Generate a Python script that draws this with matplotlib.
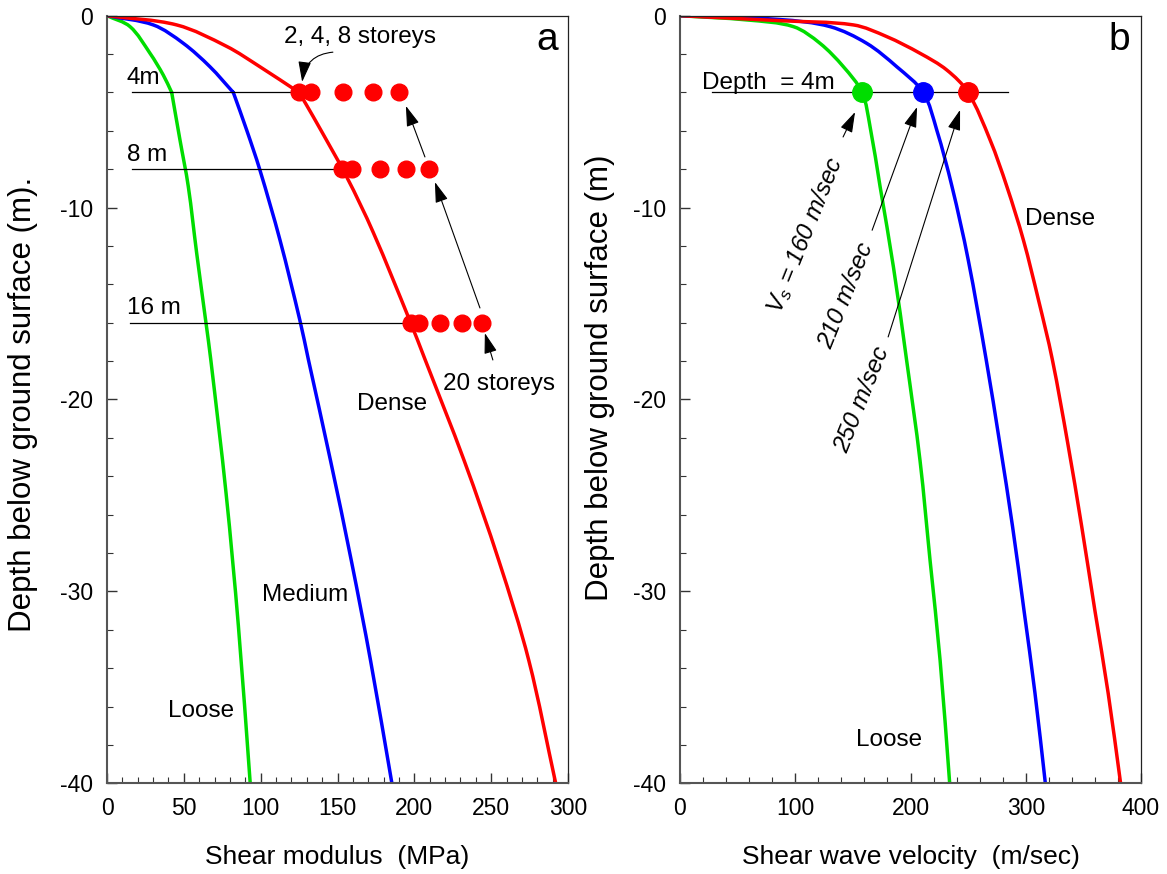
import numpy as np
import matplotlib.pyplot as plt
from matplotlib.ticker import MultipleLocator
from matplotlib.path import Path
from matplotlib.patches import PathPatch

plt.rcParams['font.family'] = ['Liberation Sans', 'DejaVu Sans']
plt.rcParams['mathtext.fontset'] = 'custom'
plt.rcParams['mathtext.it'] = 'Liberation Sans:italic'
plt.rcParams['mathtext.rm'] = 'Liberation Sans'
plt.rcParams['axes.unicode_minus'] = False

# ---- panel a : shear modulus (MPa) against depth (m) ----
loose_G_depth = [0, -0.57, -1.96, -3.09, -4.0, -6.48, -8.9, -12.4, -16.0, -17.9, -24.9, -31.8, -40]
loose_G = [0, 15, 28, 36.6, 42.1, 47.5, 52.9, 58.4, 64.4, 67.5, 77.5, 85.5, 93.2]

medium_G_depth = [0, -0.48, -1.44, -2.66, -4.0, -5.96, -8.04, -11.7, -15.9, -17.9, -23.2, -28.4, -33.6, -40]
medium_G = [0, 30.1, 49.7, 67, 82.2, 90.9, 99.5, 112.6, 125.6, 131, 145.5, 159, 171.5, 185.4]

dense_G_depth = [0, -0.48, -1.6, -2.66, -4.0, -5.26, -8.39, -11.3, -15.9, -17.9, -23.2, -28.4, -33.6, -40]
dense_G = [0, 45.3, 77.9, 99.5, 125, 134.2, 155.9, 173.3, 197.1, 206.9, 232.5, 255, 274.5, 292]

# foundation levels and the storey points (2, 4, 8, ... 20 storeys)
storey_depths = [-4, -8, -16]
storey_G = [[125.1, 132.5, 153.7, 173.3, 190.2],
            [152.7, 159.6, 177.6, 194.3, 209.7],
            [197.6, 203.0, 216.9, 231.0, 244.2]]
level_labels = ['4m', '8 m', '16 m']
level_line_start = [16, 16, 15]

# ---- panel b : shear wave velocity (m/sec) against depth (m) ----
loose_V_depth = [0, -0.22, -0.57, -1.44, -2.66, -4.0, -5.78, -8.9, -13.1, -17.9, -23.2, -28.4, -33.6, -40]
loose_V = [0, 57.9, 98.4, 121.5, 141.8, 158, 164.9, 173.6, 185.2, 196.5, 208.3, 217, 225.7, 234]

medium_V_depth = [0, -0.2, -0.57, -1.44, -2.66, -4.0, -5.96, -8.9, -12.7, -17.9, -22.3, -26.6, -31, -35.3, -40]
medium_V = [0, 86.8, 130.2, 162, 188.1, 211, 222.8, 236, 250, 265.6, 277.5, 288.5, 298.5, 308, 317]

dense_V_depth = [0, -0.26, -0.48, -1.09, -1.96, -2.83, -4.0, -6.48, -8.9, -11.7, -14.8, -17.9, -22.3, -26.6, -31, -35.3, -40]
dense_V = [0, 86.8, 150.4, 179.4, 208.3, 231.5, 250, 269.1, 283.6, 298, 311, 323, 336.5, 348.5, 360, 371.5, 382.3]

vs_at_4m = [158, 211, 250]
vs_labels = [r'$V_s$ = 160 m/sec', '210 m/sec', '250 m/sec']

GREEN = '#00dd00'
BLUE = '#0000ff'
RED = '#ff0000'
FS = 17.5

fig = plt.figure(figsize=(11.67, 8.74), dpi=100)
axa = fig.add_axes([107 / 1167, 1 - 783.3 / 874, 461 / 1167, 767.6 / 874])
axb = fig.add_axes([680 / 1167, 1 - 783.3 / 874, 461 / 1167, 767.6 / 874])


def style_axis(ax, xmax, xmajor, xminor, xlabel, ylabel, ylabel_xy):
    ax.set_xlim(0, xmax)
    ax.set_ylim(-40, 0)
    ax.xaxis.set_major_locator(MultipleLocator(xmajor))
    ax.xaxis.set_minor_locator(MultipleLocator(xminor))
    ax.yaxis.set_major_locator(MultipleLocator(10))
    ax.yaxis.set_minor_locator(MultipleLocator(2))
    ax.tick_params(which='both', direction='in', labelsize=16.5, color='#333333')
    ax.tick_params(which='major', length=7, width=1)
    ax.tick_params(which='minor', length=4, width=0.8)
    ax.tick_params(axis='x', pad=10)
    ax.tick_params(axis='y', pad=10)
    for side in ['left', 'bottom']:
        ax.spines[side].set_color('#555555')
        ax.spines[side].set_linewidth(1.5)
    for side in ['top', 'right']:
        ax.spines[side].set_color('#222222')
        ax.spines[side].set_linewidth(0.9)
    ax.set_xlabel(xlabel, fontsize=19, labelpad=18)
    ax.set_ylabel(ylabel, fontsize=22.5)
    ax.yaxis.set_label_coords(*ylabel_xy)


def smooth_curve(ax, xs, ys, color, kink=None):
    # cubic bezier through the read points (chord-length tangents), kink kept sharp
    pts = np.column_stack([xs, ys]).astype(float)
    pieces = [pts] if kink is None else [pts[:kink + 1], pts[kink:]]
    verts, codes = [], []
    for p in pieces:
        disp = ax.transData.transform(p)
        t = np.concatenate([[0], np.cumsum(np.hypot(*np.diff(disp, axis=0).T))])
        m = np.zeros_like(p)
        m[0] = (p[1] - p[0]) / (t[1] - t[0])
        m[-1] = (p[-1] - p[-2]) / (t[-1] - t[-2])
        for i in range(1, len(p) - 1):
            m[i] = (p[i + 1] - p[i - 1]) / (t[i + 1] - t[i - 1])
        verts.append(p[0])
        codes.append(Path.MOVETO)
        for i in range(len(p) - 1):
            dt = t[i + 1] - t[i]
            verts += [p[i] + m[i] * dt / 3, p[i + 1] - m[i + 1] * dt / 3, p[i + 1]]
            codes += [Path.CURVE4] * 3
    ax.add_patch(PathPatch(Path(verts, codes), fill=False, edgecolor=color, lw=2.5,
                           capstyle='round', joinstyle='round', zorder=2))


# panel a
style_axis(axa, 300, 50, 10, 'Shear modulus  (MPa)', 'Depth below ground surface (m).', (-0.15, 0.493))
smooth_curve(axa, loose_G, loose_G_depth, GREEN, kink=4)
smooth_curve(axa, medium_G, medium_G_depth, BLUE, kink=4)
smooth_curve(axa, dense_G, dense_G_depth, RED, kink=4)

for d, g, lab, x0 in zip(storey_depths, storey_G, level_labels, level_line_start):
    axa.plot([x0, g[0]], [d, d], color='k', lw=0.9, zorder=3)
    axa.plot(g, [d] * len(g), 'o', color=RED, ms=12, zorder=4)
    axa.text(13, d + 0.75, lab, fontsize=FS, va='center', ha='left')

arrow = dict(arrowstyle='-|>,head_length=0.7,head_width=0.22', color='k', lw=0.8,
             mutation_scale=18, shrinkA=0, shrinkB=0)
axa.annotate('', xy=(127, -3.45), xytext=(147, -1.9),
             arrowprops=dict(arrow, connectionstyle='arc3,rad=0.4'))
axa.annotate('', xy=(245.9, -16.54), xytext=(251.1, -17.94), arrowprops=arrow)
axa.annotate('', xy=(213.4, -8.67), xytext=(242.7, -15.23), arrowprops=arrow)
axa.annotate('', xy=(194.5, -4.70), xytext=(206.9, -7.36), arrowprops=arrow)

axa.text(164.6, -1.11, '2, 4, 8 storeys', fontsize=FS, ha='center', va='center')
axa.text(218.6, -19.5, '20 storeys', fontsize=FS, ha='left', va='baseline')
axa.text(162.6, -20.55, 'Dense', fontsize=FS, ha='left', va='baseline')
axa.text(100.8, -30.5, 'Medium', fontsize=FS, ha='left', va='baseline')
axa.text(39.7, -36.56, 'Loose', fontsize=FS, ha='left', va='baseline')
axa.text(286.3, -1.79, 'a', fontsize=28, ha='center', va='baseline')

# panel b
style_axis(axb, 400, 100, 20, 'Shear wave velocity  (m/sec)', 'Depth below ground surface (m)', (-0.141, 0.528))
smooth_curve(axb, loose_V, loose_V_depth, GREEN)
smooth_curve(axb, medium_V, medium_V_depth, BLUE)
smooth_curve(axb, dense_V, dense_V_depth, RED)

axb.plot([27.8, 284.7], [-4, -4], color='k', lw=0.9, zorder=3)
for v, c in zip(vs_at_4m, [GREEN, BLUE, RED]):
    axb.plot(v, -4, 'o', color=c, ms=14, zorder=4)

axb.text(19, -3.82, 'Depth  = 4m', fontsize=FS, ha='left', va='baseline')
axb.text(299.5, -10.9, 'Dense', fontsize=FS, ha='left', va='baseline')
axb.text(152.8, -38.06, 'Loose', fontsize=FS, ha='left', va='baseline')
axb.text(381, -1.79, 'b', fontsize=28, ha='center', va='baseline')

vs_label_pos = [(109, -11.43), (144.5, -14.6), (157.6, -20.0)]
vs_arrow_tail = [(141.5, -6.32), (166.7, -11.18), (180.6, -16.74)]
vs_arrow_head = [(151.9, -5.02), (205.7, -4.76), (243.0, -4.91)]
for lab, pos, tail, head in zip(vs_labels, vs_label_pos, vs_arrow_tail, vs_arrow_head):
    axb.text(pos[0], pos[1], lab, fontsize=FS, style='italic', rotation=68,
             rotation_mode='anchor', ha='center', va='center')
    axb.annotate('', xy=head, xytext=tail, arrowprops=arrow)

fig.savefig('out.png', dpi=100)
